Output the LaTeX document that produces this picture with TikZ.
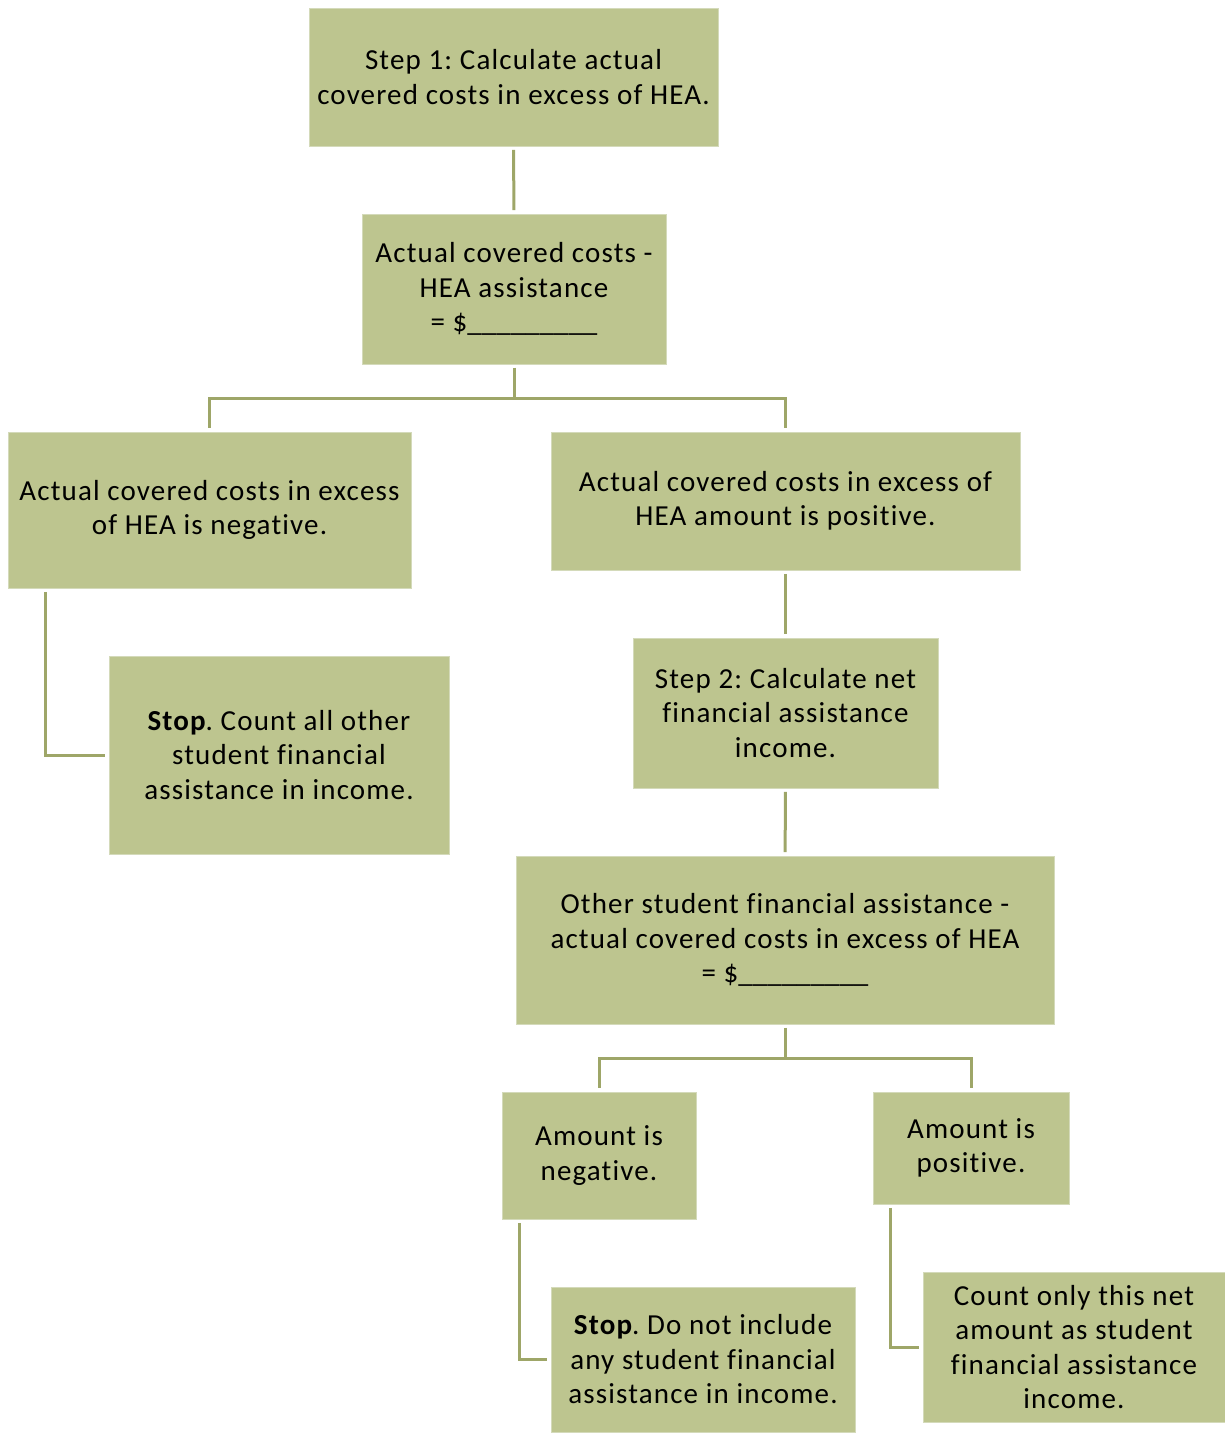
\documentclass[tikz,border=0pt]{standalone}
\usepackage{fontspec}
\setmainfont{Carlito}[LetterSpace=4,Ligatures=NoCommon]
\definecolor{boxfill}{RGB}{189,197,143}
\definecolor{boxedge}{RGB}{212,218,186}
\definecolor{conncol}{RGB}{158,166,104}
\newcommand{\blankline}{{\addfontfeatures{LetterSpace=0}\_\_\_\_\_\_\_\_\_}}
\begin{document}
\frenchspacing
\begin{tikzpicture}[x=1pt,y=-1pt,
  box/.style={fill=boxfill, draw=boxedge, line width=0.8pt, inner sep=0pt, align=center,
    font=\fontsize{29}{34.5}\selectfont},
  conn/.style={draw=conncol, line width=3pt, shorten <=3.5pt, shorten >=3.5pt}]
\useasboundingbox (0,0) rectangle (1225,1433);
\node[box, minimum width=409pt, minimum height=138pt] (s1) at (513.5,77)
  {Step 1: Calculate actual\\covered costs in excess of HEA.};
\node[box, minimum width=304pt, minimum height=150pt] (s2) at (514,289)
  {Actual covered costs -\\HEA assistance\\= \$\blankline};
\node[box, minimum width=403pt, minimum height=156pt] (neg) at (209.5,510)
  {Actual covered costs in excess\\of HEA is negative.};
\node[box, minimum width=469pt, minimum height=138pt] (pos) at (785.5,501)
  {Actual covered costs in excess of\\HEA amount is positive.};
\node[box, minimum width=340pt, minimum height=198pt] (stop1) at (279,755)
  {\textbf{Stop}. Count all other\\student financial\\assistance in income.};
\node[box, minimum width=305pt, minimum height=150pt] (s3) at (785.5,713)
  {Step 2: Calculate net\\financial assistance\\income.};
\node[box, minimum width=538pt, minimum height=168pt] (s4) at (785,940)
  {Other student financial assistance -\\actual covered costs in excess of HEA\\= \$\blankline};
\node[box, minimum width=194pt, minimum height=127pt] (aneg) at (599,1155.5)
  {Amount is\\negative.};
\node[box, minimum width=196pt, minimum height=112pt] (apos) at (971,1148)
  {Amount is\\positive.};
\node[box, minimum width=304pt, minimum height=145pt] (stop2) at (703,1359.5)
  {\textbf{Stop}. Do not include\\any student financial\\assistance in income.};
\node[box, minimum width=302pt, minimum height=150pt] (cnt) at (1074,1347)
  {Count only this net\\amount as student\\financial assistance\\income.};

\draw[conn] (s1) -- (s2);
\draw[conn] (s2.south) -- ++(0,34) -| (neg.north);
\draw[conn] (s2.south) -- ++(0,34) -| (pos.north);
\draw[conn] (pos) -- (s3);
\draw[conn] (s3) -- (s4);
\draw[conn] (s4.south) -- ++(0,34) -| (aneg.north);
\draw[conn] (s4.south) -- ++(0,34) -| (apos.north);
\draw[conn] ([xshift=38pt]neg.south west) |- (stop1.west);
\draw[conn] ([xshift=18pt]aneg.south west) |- (stop2.west);
\draw[conn] ([xshift=18pt]apos.south west) |- (cnt.west);
\end{tikzpicture}
\end{document}
